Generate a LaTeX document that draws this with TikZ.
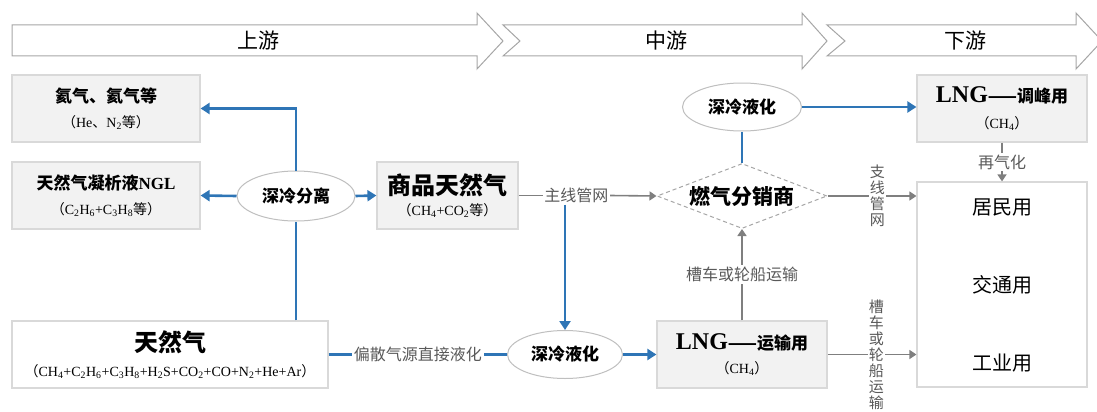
\documentclass[tikz,border=0pt]{standalone}
\usepackage{fontspec}
\setmainfont{Liberation Serif}
\newfontfamily\cjk{Noto Sans CJK SC}
\usetikzlibrary{arrows.meta,shapes.geometric,calc}
\definecolor{flow}{HTML}{2E75B6}
\definecolor{link}{HTML}{7F7F7F}
\definecolor{boxfill}{HTML}{F2F2F2}
\definecolor{boxline}{HTML}{D9D9D9}
\definecolor{ovalline}{HTML}{BFBFBF}
\definecolor{stage}{HTML}{A6A6A6}
\definecolor{notetext}{HTML}{595959}
\newcommand{\zh}[1]{{\cjk#1}}
\newcommand{\hd}{\cjk\bfseries\fontsize{17}{20}\selectfont}
\newcommand{\fm}{\fontsize{14}{15}\selectfont}
\tikzset{
  stagearrow/.style={draw=stage, line width=1pt, fill=white},
  stagelab/.style={font=\cjk\fontsize{21}{23}\selectfont},
  graybox/.style={draw=boxline, fill=boxfill, line width=1.2pt, align=center, inner sep=0pt},
  whitebox/.style={draw=boxline, fill=white, line width=1.2pt, inner sep=0pt},
  oval/.style={ellipse, draw=ovalline, fill=white, line width=1pt, inner sep=0pt,
    font=\cjk\bfseries\fontsize{17}{19}\selectfont},
  blueflow/.style={draw=flow, line width=2.6pt},
  blueto/.style={blueflow, -{Triangle[length=9pt,width=11pt]}},
  grayflow/.style={draw=link, line width=1.6pt},
  grayto/.style={grayflow, -{Triangle[length=7pt,width=9pt]}},
  note/.style={text=notetext, fill=white, inner sep=2pt, font=\cjk\fontsize{16}{17}\selectfont},
  vnote/.style={note, align=center, inner sep=1pt, font=\cjk\fontsize{15}{16}\selectfont},
  uselab/.style={font=\cjk\fontsize{20}{22}\selectfont},
}
\begin{document}
\begin{tikzpicture}[x=1pt,y=-1pt]
  \useasboundingbox (0,0) rectangle (1097,412);
  \clip (0,0) rectangle (1097,412);

  % stage arrows
  \draw[stagearrow] (12,25) -- (477,25) -- (477,13) -- (503,41) -- (477,69) -- (477,56) -- (12,56) -- cycle;
  \draw[stagearrow] (503,25) -- (802,25) -- (802,13) -- (827,41) -- (802,69) -- (802,56) -- (503,56) -- (520,41) -- cycle;
  \draw[stagearrow] (827,25) -- (1076,25) -- (1076,13) -- (1102,41) -- (1076,69) -- (1076,56) -- (827,56) -- (845,41) -- cycle;
  \node[stagelab] (up) at (258,41) {上游};
  \node[stagelab] (mid) at (666,41) {中游};
  \node[stagelab] (down) at (965,41) {下游};

  % boxes
  \node[graybox, minimum width=188pt, minimum height=67pt] (he) at (106,108.5)
    {{\hd 氦气、氦气等}\\[10pt]{\fm\zh{（}He\zh{、}N\textsubscript{2}\zh{等）}}};
  \node[graybox, minimum width=188pt, minimum height=67pt] (ngl) at (106,195.5)
    {{\hd 天然气凝析液}{\bfseries\fontsize{17}{20}\selectfont NGL}\\[10pt]{\fm\zh{（}C\textsubscript{2}H\textsubscript{6}+C\textsubscript{3}H\textsubscript{8}\zh{等）}}};
  \node[graybox, minimum width=141pt, minimum height=67pt] (spng) at (447.5,195.5)
    {{\cjk\bfseries\fontsize{24}{26}\selectfont 商品天然气}\\[6pt]{\fm\zh{（}CH\textsubscript{4}+CO\textsubscript{2}\zh{等）}}};
  \node[whitebox, align=center, minimum width=316pt, minimum height=67pt] (ng) at (170,354.5)
    {{\cjk\bfseries\fontsize{24}{26}\selectfont 天然气}\\[10pt]{\fm\zh{（}CH\textsubscript{4}+C\textsubscript{2}H\textsubscript{6}+C\textsubscript{3}H\textsubscript{8}+H\textsubscript{2}S+CO\textsubscript{2}+CO+N\textsubscript{2}+He+Ar\zh{）}}};
  \node[graybox, minimum width=170pt, minimum height=67pt] (lngP) at (1002,108.5)
    {{\bfseries\fontsize{24}{26}\selectfont LNG}{\hd ——调峰用}\\[11pt]{\fm\zh{（}CH\textsubscript{4}\zh{）}}};
  \node[graybox, minimum width=170pt, minimum height=67pt] (lngT) at (742,354.5)
    {{\bfseries\fontsize{24}{26}\selectfont LNG}{\hd ——运输用}\\[9pt]{\fm\zh{（}CH\textsubscript{4}\zh{）}}};
  \node[whitebox, minimum width=170pt, minimum height=205pt] (use) at (1002,284.5) {};
  \node[uselab] (res) at (1002,207) {居民用};
  \node[uselab] (tra) at (1002,285) {交通用};
  \node[uselab] (ind) at (1002,363) {工业用};

  % process ovals and distributor
  \node[oval, minimum width=118pt, minimum height=50pt] (sep) at (296,196) {深冷分离};
  \node[oval, minimum width=119pt, minimum height=48pt] (liqU) at (742,107) {深冷液化};
  \node[oval, minimum width=115pt, minimum height=48pt] (liqL) at (565,354.5) {深冷液化};
  \node[diamond, aspect=2.6, draw=stage, dash pattern=on 4pt off 3pt, line width=1pt, fill=white,
    inner sep=0pt, minimum width=170pt, minimum height=65pt,
    font=\cjk\bfseries\fontsize{21}{23}\selectfont] (dist) at (742,196) {燃气分销商};

  % upstream flows
  \draw[blueflow] (sep.south |- ng.north) -- (sep.south);
  \draw[blueto] (sep.north) |- (he.east);
  \draw[blueto] (sep.west) -- (ngl.east);
  \draw[blueto] (sep.east) -- (spng.west);
  \draw[blueflow] (ng.east) -- node[note] (direct) {偏散气源直接液化} (liqL.west);

  % midstream flows
  \draw[grayflow] (spng.east) -- ++(24,0) node[note, anchor=west, inner sep=1pt] (trunk) {主线管网};
  \draw[grayto] (trunk.east) -- (dist.west);
  \draw[blueto] (liqL.north |- trunk.south) -- (liqL.north);
  \draw[blueto] (liqL.east) -- (lngT.west);
  \draw[blueflow] (dist.north) -- (liqU.south);
  \draw[blueto] (liqU.east) -- (lngP.west |- liqU.east);
  \draw[grayto] (lngT.north) -- node[note] (tank) {槽车或轮船运输} (dist.south);

  % downstream flows
  \draw[grayto] (lngP.south) -- node[note] (regas) {再气化} (use.north);
  \draw[grayto] (dist.east) -- node[vnote, pos=0.56] (branch) {支\\线\\管\\网} (dist.east -| use.west);
  \draw[grayto] (lngT.east) -- node[vnote, pos=0.55] (tankv) {槽\\车\\或\\轮\\船\\运\\输} (lngT.east -| use.west);
\end{tikzpicture}
\end{document}
